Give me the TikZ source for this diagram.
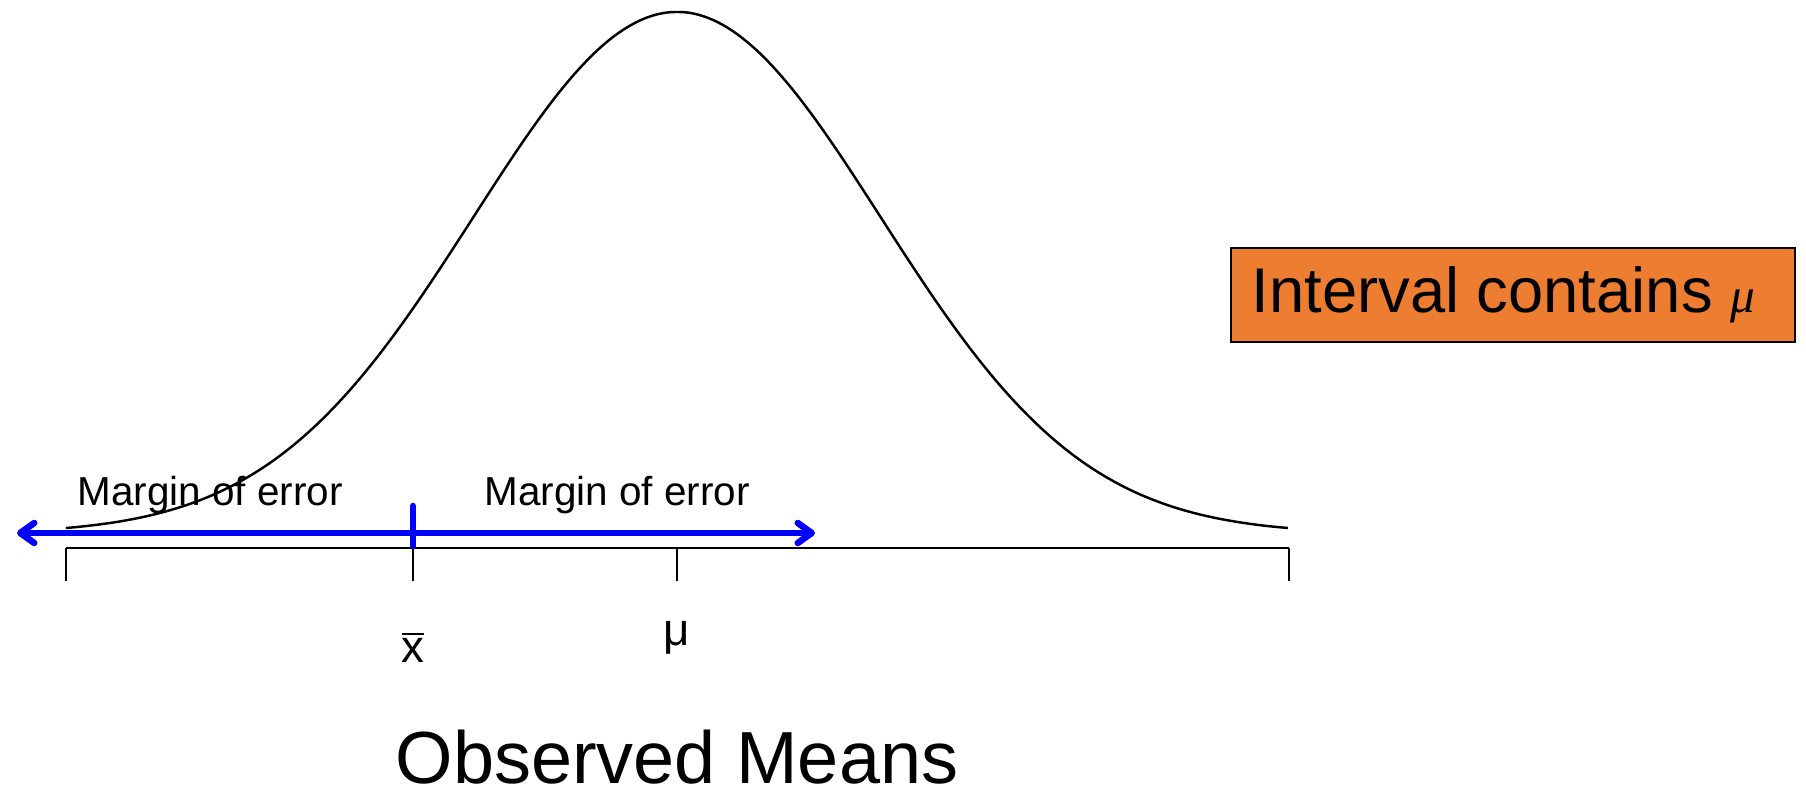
\documentclass[tikz,border=0pt]{standalone}
\usepackage{fontspec}
\setmainfont{Liberation Sans}
\newfontfamily\greekserif{Liberation Serif}
\usetikzlibrary{arrows.meta, positioning}
\definecolor{boxorange}{HTML}{ED7D31}
\tikzset{
    moe label/.style={
        anchor=base,
        inner sep=0pt,
        font=\fontsize{11.5}{14}\selectfont
    },
    tick label/.style={
        anchor=base,
        inner sep=0pt,
        font=\fontsize{13}{15}\selectfont
    },
    ci arrow/.style={
        draw=blue,
        line width=1.85pt,
        line cap=round,
        {Straight Barb[length=1.4mm, width=2.0mm, round]}-{Straight Barb[length=1.4mm, width=2.0mm, round]}
    },
    ci mark/.style={
        draw=blue,
        line width=1.85pt,
        line cap=round
    },
    result box/.style={
        draw=black,
        line width=0.5pt,
        fill=boxorange,
        inner xsep=0.21cm,
        minimum height=0.94cm,
        inner ysep=0pt,
        font=\fontsize{18}{20}\selectfont
    }
}

\begin{document}
\begin{tikzpicture}[x=0.01cm, y=-0.01cm]
    \useasboundingbox (0,0) rectangle (1806,795);

    % Axis
    \coordinate (axLo) at (66,548);
    \coordinate (axHi) at (1289,548);
    \draw [line width=0.7pt] (axLo) -- (axHi);
    \foreach \t in {66, 413, 677, 1289}
        \draw [line width=0.7pt] (\t,548) -- (\t,581);

    % Density curve
    \draw [line width=0.7pt] plot [domain=-3:3, samples=121, smooth]
        ({677+203.7*\x}, {533.8-521.8*exp(-0.5*(\x)*(\x))});

    % Interval
    \coordinate (ciLo) at (17,533);
    \coordinate (ciHi) at (815,533);
    \coordinate (xbarTop) at (413,506);
    \coordinate (xbarFoot) at (413,546);
    \draw [ci arrow] (ciLo) -- (ciHi);
    \draw [ci mark] (xbarTop) -- (xbarFoot);

    % Labels
    \node (moeLeft) [moe label] at (210,506) {Margin of error};
    \node (moeRight) [moe label] at (617,506) {Margin of error};
    \node (xbar) [tick label] at (413,663) {$\overline{\mbox{x}}$};
    \node (mu) [tick label] at (677,646) {μ};
    \node (title) [anchor=base, inner sep=0pt, font=\fontsize{21}{24}\selectfont] at (677,784) {Observed Means};

    % Result
    \node (result) [result box] at (1513,295)
        {\makebox[5.22cm][l]{Interval contains {\greekserif\itshape\fontsize{14}{16}\selectfont μ}}};
\end{tikzpicture}
\end{document}
